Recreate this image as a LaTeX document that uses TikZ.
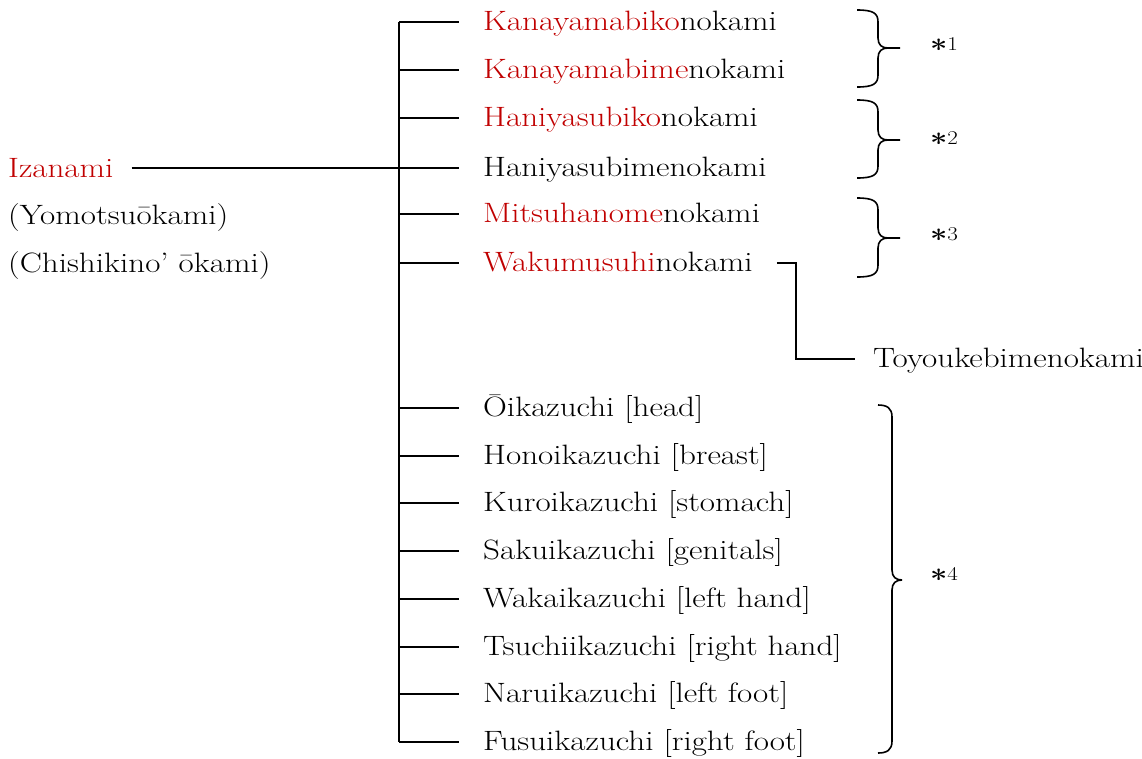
\documentclass[tikz,border=0pt]{standalone}
\usepackage{fontspec}
\setmainfont{Latin Modern Roman}[FakeStretch=1.18]
\definecolor{kred}{RGB}{192,0,0}
\newcommand\kbrace[6]{% x0 x1 x2 yt ym yb
 \draw[bracestyle] ({#1},{#4}) .. controls ({#2-5},{#4}) and ({#2},{#4+3}) .. ({#2},{#4+12})
  -- ({#2},{#5-10}) .. controls ({#2},{#5-3}) and ({#2+4},{#5}) .. ({#2+10},{#5}) -- ({#3},{#5})
  ({#2+10},{#5}) .. controls ({#2+4},{#5}) and ({#2},{#5+3}) .. ({#2},{#5+10})
  -- ({#2},{#6-12}) .. controls ({#2},{#6-3}) and ({#2-5},{#6}) .. ({#1},{#6});}
\newcommand\kstar{\raisebox{-8pt}{\fontsize{26}{30}\selectfont\bfseries *}}
\begin{document}
\begin{tikzpicture}[x=1pt,y=-1pt,
  every node/.style={font=\fontsize{28}{34}\selectfont, inner sep=0pt},
  conn/.style={line width=1.6pt},
  bracestyle/.style={line width=1.6pt},
  child/.style={anchor=base west, inner xsep=24pt},
  plain/.style={anchor=base west, inner xsep=18pt},
  note/.style={anchor=base west},
  star/.style={anchor=base west, font=\fontsize{19.5}{22}\selectfont}]
\useasboundingbox (0,0) rectangle (1142,758);
% left
\node[plain] (iz) at (-10,177) {\color{kred}Izanami};
\node[note] (yo) at (8,224) {(Yomotsuōkami)};
\node[note] (ch) at (8,272) {(Chishikino’ ōkami)};
% children
\foreach \i/\y/\t in {
  1/22/{{\color{kred}Kanayamabiko}nokami},
  2/70/{{\color{kred}Kanayamabime}nokami},
  3/118/{{\color{kred}Haniyasubiko}nokami},
  4/168/{Haniyasubimenokami},
  5/214/{{\color{kred}Mitsuhanome}nokami},
  6/263/{{\color{kred}Wakumusuhi}nokami},
  7/408/{Ōikazuchi [head]},
  8/456/{Honoikazuchi [breast]},
  9/503/{Kuroikazuchi [stomach]},
  10/551/{Sakuikazuchi [genitals]},
  11/599/{Wakaikazuchi [left hand]},
  12/647/{Tsuchiikazuchi [right hand]},
  13/694/{Naruikazuchi [left foot]},
  14/742/{Fusuikazuchi [right foot]}}{
  \coordinate (t\i) at (399,\y);
  \node[child] (n\i) at (459,\y+8) {\t};
  \draw[conn] (t\i) -- (t\i -| n\i.west);
}
\draw[conn] (t1) -- (t14);
\draw[conn] (iz.east |- t4) -- (t4);
% Toyoukebime
\node[plain] (toyo) at (855,367) {Toyoukebimenokami};
\coordinate (tb) at (796,359);
\draw[conn] (n6.east |- t6) -| (tb) -- (tb -| toyo.west);
% braces
\kbrace{857}{878}{900}{10}{48}{87}
\kbrace{857}{878}{900}{100}{140}{178}
\kbrace{857}{878}{900}{198}{238}{277}
\kbrace{878}{892}{902}{405}{580}{753}
\node[star] (s1) at (930,50) {\kstar1};
\node[star] (s2) at (930,144) {\kstar2};
\node[star] (s3) at (930,240) {\kstar3};
\node[star] (s4) at (930,580) {\kstar4};
\end{tikzpicture}
\end{document}
